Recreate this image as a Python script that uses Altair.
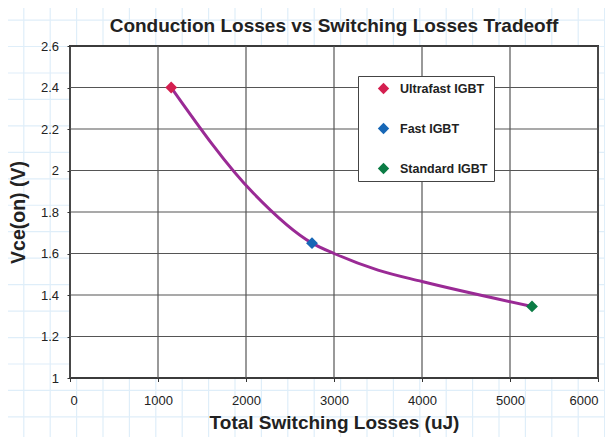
import altair as alt
import pandas as pd

FONT = "'Liberation Sans', Arial, sans-serif"

title_text = "Conduction Losses vs Switching Losses Tradeoff"
x_title = "Total Switching Losses (uJ)"
y_title = "Vce(on) (V)"

# marker points
device_names = ["Ultrafast IGBT", "Fast IGBT", "Standard IGBT"]
device_losses = [1150, 2750, 5250]
device_vce = [2.40, 1.65, 1.345]
device_colors = ["#d41f50", "#1767b6", "#0b7c45"]

# smoothed trend curve
curve_losses = [1150, 2085, 2750, 3000, 3500, 4000, 5250]
curve_vce = [2.40, 1.89, 1.65, 1.60, 1.52, 1.465, 1.345]

x_ticks = [0, 1000, 2000, 3000, 4000, 5000, 6000]
y_ticks = [1.0, 1.2, 1.4, 1.6, 1.8, 2.0, 2.2, 2.4, 2.6]

# graph-paper background lines (in data units)
paper_x = [-525 + 300 * k for k in range(24)]
paper_y = [2.725 - 0.1275 * k for k in range(18)]

xs = alt.Scale(domain=[0, 6000], nice=False, zero=False)
ys = alt.Scale(domain=[1, 2.6], nice=False, zero=False)

x_axis = alt.Axis(
    title=x_title, values=x_ticks, format="d", grid=False, domain=False,
    ticks=True, tickSize=3.5, tickColor="#333", labelPadding=13,
    labelFont=FONT, labelFontSize=13, labelColor="#222",
    titleFont=FONT, titleFontSize=19, titleFontWeight="bold", titleColor="#222",
    titlePadding=6, zindex=1,
)
y_axis = alt.Axis(
    title=y_title, values=y_ticks, format="~g", grid=False, domain=False,
    ticks=True, tickSize=3, tickColor="#333", labelPadding=8.5,
    labelFont=FONT, labelFontSize=13, labelColor="#222",
    titleFont=FONT, titleFontSize=19.5, titleFontWeight="bold", titleColor="#222",
    titlePadding=12, zindex=1,
)


def X(field):
    return alt.X(field, type="quantitative", scale=xs, axis=x_axis)


def Y(field):
    return alt.Y(field, type="quantitative", scale=ys, axis=y_axis)


paper_v = pd.DataFrame({"x": paper_x, "y0": 2.82, "y1": 0.6})
paper_h = pd.DataFrame({"y": paper_y, "x0": -900.0, "x1": 6400.0})
frame = pd.DataFrame({"x0": [0.0], "x1": [6000.0], "y0": [1.0], "y1": [2.6]})
grid_v = pd.DataFrame({"x": x_ticks, "y0": 1.0, "y1": 2.6})
grid_h = pd.DataFrame({"y": y_ticks, "x0": 0.0, "x1": 6000.0})
curve = pd.DataFrame({"loss": curve_losses, "vce": curve_vce})
points = pd.DataFrame({"loss": device_losses, "vce": device_vce, "device": device_names})

paper_color = "#dfeef9"

l_paper_v = alt.Chart(paper_v).mark_rule(clip=False, color=paper_color, strokeWidth=1.2).encode(
    x=X("x"), y=Y("y0"), y2="y1")
l_paper_h = alt.Chart(paper_h).mark_rule(clip=False, color=paper_color, strokeWidth=1.2).encode(
    y=Y("y"), x=X("x0"), x2="x1")
l_frame = alt.Chart(frame).mark_rect(fill="white", stroke="#222", strokeWidth=1.8).encode(
    x=X("x0"), x2="x1", y=Y("y0"), y2="y1")
l_grid_v = alt.Chart(grid_v).mark_rule(color="#555", strokeWidth=1.2).encode(
    x=X("x"), y=Y("y0"), y2="y1")
l_grid_h = alt.Chart(grid_h).mark_rule(color="#555", strokeWidth=1.2).encode(
    y=Y("y"), x=X("x0"), x2="x1")
l_curve = alt.Chart(curve).mark_line(color="#9a2a95", strokeWidth=3, interpolate="monotone").encode(
    x=X("loss"), y=Y("vce"))
l_points = alt.Chart(points).mark_point(shape="diamond", filled=True, size=140, opacity=1).encode(
    x=X("loss"), y=Y("vce"),
    color=alt.Color(
        "device:N",
        scale=alt.Scale(domain=device_names, range=device_colors),
        sort=device_names,
        legend=alt.Legend(
            title=None, orient="none", legendX=288, legendY=30,
            strokeColor="#444", fillColor="white", padding=6,
            rowPadding=27, symbolType="diamond", symbolSize=130,
            symbolOffset=13, labelOffset=10,
            labelFont=FONT, labelFontSize=12.5, labelFontWeight="bold", labelColor="#222",
        ),
    ),
)

chart = alt.layer(
    l_paper_v, l_paper_h, l_frame, l_grid_v, l_grid_h, l_curve, l_points
).properties(
    width=528,
    height=332,
    autosize=alt.AutoSizeParams(type="none"),
    padding={"left": 62, "top": 38, "right": 7, "bottom": 59},
    title=alt.TitleParams(
        title_text, font=FONT, fontSize=19, fontWeight="bold", color="#222",
        anchor="middle", frame="group", baseline="alphabetic", offset=-51.5,
    ),
    background="white",
).configure_view(stroke=None)

chart.save("out.html", embed_options={"renderer": "svg", "actions": False})
